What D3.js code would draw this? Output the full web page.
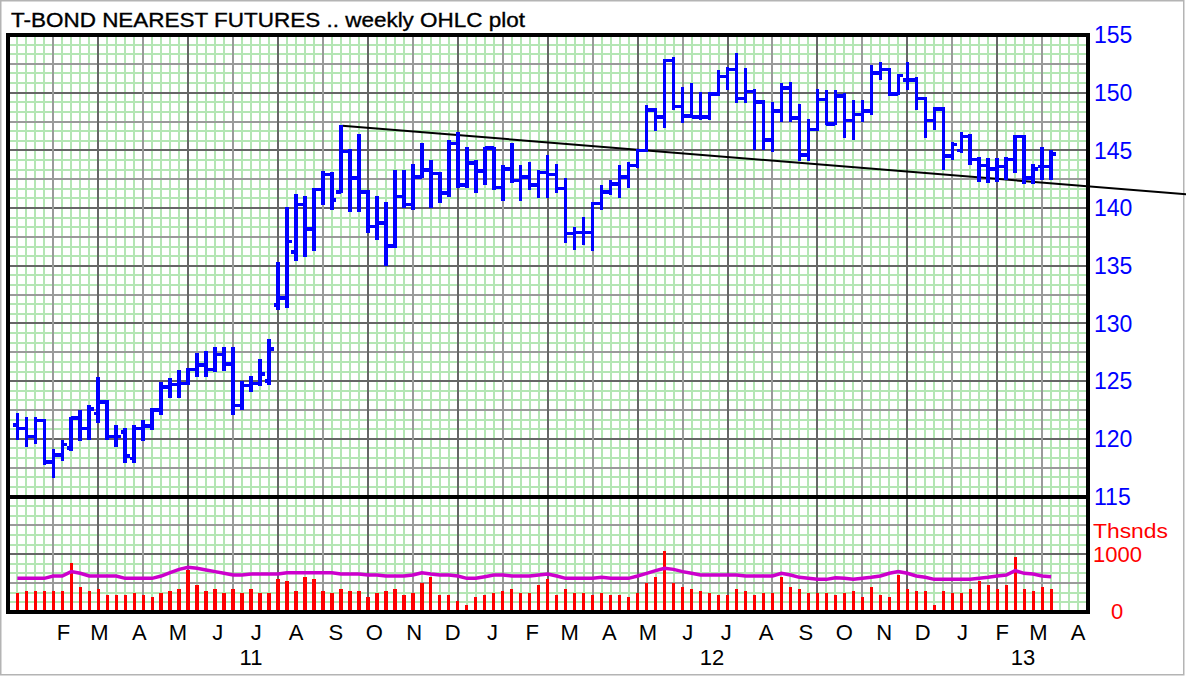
<!DOCTYPE html>
<html><head><meta charset="utf-8">
<script src="https://cdn.jsdelivr.net/npm/d3@7"></script>
<style>body{margin:0;background:#fff;} svg{display:block;}</style>
</head><body>
<script>
const titleText = "T-BOND NEAREST FUTURES .. weekly OHLC plot";
const firstWeek = "2010-12-27";
const opens = [121.2,120.9,120.2,121.6,118.0,118.6,119.2,121.8,120.9,122.2,123.2,120.2,120.6,118.3,120.9,121.1,122.5,124.5,124.7,124.8,
126.0,126.4,126.0,127.3,126.5,122.9,124.6,124.8,125.0,131.6,132.2,136.2,140.3,138.2,141.6,142.9,141.4,144.9,142.6,141.4,
138.4,138.7,136.7,141.0,140.3,142.7,143.3,143.0,141.3,145.6,142.0,143.9,143.2,145.2,141.8,143.4,142.4,142.7,142.0,143.1,
142.9,141.7,137.8,137.9,137.9,140.4,141.4,142.1,142.7,143.7,145.0,148.5,147.9,152.8,148.8,148.0,147.9,147.9,149.9,151.4,
152.0,149.5,150.1,149.2,145.9,148.4,150.4,147.8,144.6,146.8,149.4,147.3,149.7,147.6,148.1,148.4,151.7,152.0,149.9,151.1,
151.1,149.5,147.6,148.6,144.5,145.0,146.2,144.2,143.7,143.4,143.6,144.2,146.2,142.6,143.6,143.6];
const highs = [122.1,121.8,121.8,121.6,119.0,119.8,121.8,122.4,122.8,125.2,123.2,121.1,120.8,121.1,121.5,122.5,124.8,125.1,125.8,126.0,
127.3,127.5,127.8,127.8,127.8,124.9,125.3,126.8,128.5,135.2,140.0,141.1,140.9,141.6,143.1,143.0,147.1,145.0,146.3,141.4,
140.9,140.4,143.2,143.2,143.7,145.5,144.0,143.0,145.8,146.5,145.2,144.0,145.2,145.2,143.6,145.5,143.6,143.9,143.2,144.5,
143.7,142.5,138.2,139.1,140.4,141.9,142.3,143.6,143.9,145.0,148.8,148.5,152.8,153.0,150.4,150.7,149.9,149.9,151.8,152.1,
153.3,152.0,150.2,149.2,149.1,150.7,150.8,148.9,147.6,150.2,150.1,150.1,149.8,149.2,149.2,152.3,152.5,152.0,151.5,152.5,
151.2,149.5,148.6,148.6,145.6,146.5,146.3,144.3,144.2,144.2,144.3,146.2,146.2,143.7,145.2,144.9];
const lows = [120.0,119.4,119.7,117.9,116.7,118.2,119.1,119.9,120.0,121.5,120.0,119.4,118.0,118.0,119.9,120.9,122.2,123.7,123.7,124.8,
125.5,125.5,125.9,126.0,122.2,122.6,124.2,124.7,124.8,131.3,131.5,135.5,135.9,136.4,140.4,140.0,141.4,139.8,139.8,138.0,
137.4,135.1,136.7,140.1,140.0,142.7,140.1,140.6,141.1,141.9,141.9,141.4,142.1,141.7,140.7,142.3,140.7,141.7,141.0,141.0,
141.4,137.1,136.5,136.9,136.4,140.0,141.3,141.0,141.9,143.6,145.0,146.8,147.1,148.6,147.5,147.9,147.8,147.8,149.8,150.4,
149.2,149.2,145.2,145.2,145.0,147.6,147.6,144.2,144.2,146.8,147.3,147.3,146.2,146.0,147.6,148.2,151.2,149.8,149.9,150.4,
148.6,146.2,146.9,143.4,144.3,144.9,143.9,142.4,142.3,142.4,142.6,143.2,142.2,142.2,142.6,142.6];
const closes = [120.9,120.2,121.6,118.0,118.6,119.5,121.8,120.9,122.6,123.2,120.2,120.2,118.5,120.9,121.1,122.5,124.5,124.7,124.8,126.0,
126.4,126.0,127.3,126.5,122.9,124.6,124.8,125.6,127.8,132.2,137.1,140.3,138.2,141.6,142.9,140.7,144.9,142.6,141.4,138.4,
138.7,136.7,141.0,140.3,142.7,143.3,143.0,141.3,145.6,142.0,143.9,143.2,145.2,141.8,143.4,142.4,142.7,142.0,143.1,142.9,
141.7,137.8,137.9,137.9,140.4,141.4,142.1,142.7,143.7,145.0,148.5,147.9,152.8,148.8,148.0,147.9,147.9,149.9,151.4,152.0,
149.5,150.1,149.2,145.9,148.4,150.4,147.8,144.6,146.8,149.4,147.3,149.7,147.6,148.1,148.4,151.7,152.0,149.9,151.5,151.1,
149.5,147.6,148.6,144.5,145.5,146.2,144.2,143.7,143.4,143.6,144.2,146.2,142.6,143.4,143.6,144.7];
const volumes = [316,356,356,356,356,356,849,420,356,391,287,287,287,316,287,252,316,356,391,722,
461,356,391,316,391,316,391,316,316,565,530,356,594,565,356,316,391,356,356,252,
316,356,391,287,316,490,594,287,287,183,113,252,287,316,356,391,316,316,461,565,
287,391,316,316,287,316,287,287,252,316,490,594,1052,490,420,391,356,316,287,287,
391,356,287,316,316,594,420,391,316,316,316,287,316,356,252,420,287,252,635,391,
356,356,113,356,316,316,391,530,461,391,461,954,391,356,420,391];
const volumeAvg = [577,577,577,577,617,617,693,664,617,617,617,617,577,577,577,577,617,675,733,768,
751,722,693,664,635,635,652,652,652,652,675,675,675,675,675,675,652,652,652,635,
635,617,617,617,635,675,652,635,635,617,577,577,606,635,635,617,617,617,635,652,
617,577,577,577,577,594,577,577,577,617,664,710,751,733,693,664,635,635,635,635,
635,617,617,617,617,664,635,594,577,559,559,588,577,559,577,594,617,664,693,664,
617,594,559,559,559,559,559,577,594,617,635,710,664,652,617,606];
const priceTicks = [155,150,145,140,135,130,125,120,115];
const volumeTickLabels = ["1000","0"];
const volumeTickValues = [1000,0];
const volumeUnit = "Thsnds";
const monthLabels = ["F","M","A","M","J","J","A","S","O","N","D","J","F","M","A","M","J","J","A","S","O","N","D","J","F","M","A"];
const monthDates = ["2011-02-01","2011-03-01","2011-04-01","2011-05-01","2011-06-01","2011-07-01","2011-08-01","2011-09-01","2011-10-01","2011-11-01","2011-12-01",
"2012-01-01","2012-02-01","2012-03-01","2012-04-01","2012-05-01","2012-06-01","2012-07-01","2012-08-01","2012-09-01","2012-10-01","2012-11-01","2012-12-01",
"2013-01-01","2013-02-01","2013-03-01","2013-04-01"];
const yearLabels = ["11","12","13"];
const yearDates = ["2011-06-27","2012-06-20","2013-02-17"];
const trendDates = ["2011-09-06","2013-06-26"];
const trendPrices = [147.14,141.18];

const W = 1186, H = 677;
const L = 8, R = 1088, T = 35, MID = 496.5, B = 611.5;
const parse = d3.utcParse("%Y-%m-%d");
const week0 = parse(firstWeek);
const dates = opens.map((_, i) => d3.utcDay.offset(week0, 7 * i));
const n = opens.length;

const x = d3.scaleUtc().domain([dates[0], dates[n - 1]]).range([17.3, 17.3 + 8.99 * (n - 1)]);
const y = d3.scaleLinear().domain([115, 155]).range([MID, T]);
const yv = d3.scaleLinear().domain([0, 2000]).range([B, MID]);

const svg = d3.select("body").append("svg").attr("width", W).attr("height", H);
svg.append("rect").attr("width", W).attr("height", H).attr("fill", "#fff");
svg.append("rect").attr("x", 0.75).attr("y", 0.75).attr("width", 1183).attr("height", 674)
  .attr("fill", "none").attr("stroke", "#b4b4b4").attr("stroke-width", 1.5);

const defs = svg.append("defs");
defs.append("clipPath").attr("id", "plotclip").append("rect")
  .attr("x", L).attr("y", T).attr("width", R - L).attr("height", B - T);

const grid = svg.append("g").attr("clip-path", "url(#plotclip)").attr("shape-rendering", "crispEdges");
const weekIdx = d3.range(-1, 121);
grid.selectAll("line.gv").data(weekIdx.filter(k => (k % 5 + 5) % 5 !== 4)).join("line")
  .attr("x1", k => x(d3.utcDay.offset(week0, 7 * k))).attr("x2", k => x(d3.utcDay.offset(week0, 7 * k)))
  .attr("y1", T).attr("y2", B).attr("stroke", "#b4e6b4").attr("stroke-width", 2);
const fineLevels = d3.range(0, 61).map(j => 155 - j * 2.5 / 3);
grid.selectAll("line.gh").data(fineLevels.filter((_, j) => j % 3 !== 0)).join("line")
  .attr("x1", L).attr("x2", R).attr("y1", p => y(p)).attr("y2", p => y(p))
  .attr("stroke", "#b4e6b4").attr("stroke-width", 2);
const majorLevels = d3.range(0, 21).map(j => ({p: 155 - j * 2.5, j}));
grid.selectAll("line.mh").data(majorLevels).join("line")
  .attr("x1", L).attr("x2", R).attr("y1", d => y(d.p)).attr("y2", d => y(d.p))
  .attr("stroke", d => d.j % 2 === 0 ? "#666" : "#9a9a9a").attr("stroke-width", 2);
const majorWeeks = weekIdx.filter(k => (k % 5 + 5) % 5 === 4);
grid.selectAll("line.mv").data(majorWeeks).join("line")
  .attr("x1", k => x(d3.utcDay.offset(week0, 7 * k))).attr("x2", k => x(d3.utcDay.offset(week0, 7 * k)))
  .attr("y1", T).attr("y2", B)
  .attr("stroke", k => ((k - 4) / 5) % 2 === 0 ? "#9a9a9a" : "#666").attr("stroke-width", 2);

svg.append("g").attr("shape-rendering", "crispEdges").selectAll("rect").data(volumes).join("rect")
  .attr("x", (v, i) => x(dates[i]) - 1.65).attr("width", 3.3)
  .attr("y", v => yv(v)).attr("height", v => B - yv(v)).attr("fill", "#ff0000");
svg.append("path").datum(volumeAvg)
  .attr("d", d3.line().x((v, i) => x(dates[i])).y(v => yv(v)))
  .attr("fill", "none").attr("stroke", "#cc00cc").attr("stroke-width", 3.5);

svg.append("path").datum(trendDates.map((d, i) => ({d: parse(d), p: trendPrices[i]})))
  .attr("d", d3.line().x(t => x(t.d)).y(t => y(t.p)))
  .attr("fill", "none").attr("stroke", "#000").attr("stroke-width", 2);

svg.append("g").attr("shape-rendering", "crispEdges").selectAll("path").data(dates).join("path")
  .attr("d", (d, i) => {
    const cx = x(d);
    return `M${cx - 4.5},${y(opens[i])}H${cx}M${cx},${y(highs[i]) - 1.5}V${y(lows[i]) + 1.5}M${cx},${y(closes[i])}H${cx + 4.5}`;
  })
  .attr("fill", "none").attr("stroke", "#0000ff").attr("stroke-width", 3.5);

const frame = svg.append("g").attr("fill", "none").attr("stroke", "#000").attr("stroke-width", 4).attr("shape-rendering", "crispEdges");
frame.append("rect").attr("x", L).attr("y", T).attr("width", R - L).attr("height", B - T);
frame.append("line").attr("x1", L).attr("x2", R).attr("y1", MID).attr("y2", MID);

const font = "Liberation Sans, Arial, sans-serif";
svg.append("text").attr("x", 11).attr("y", 27.3).attr("font-family", font).attr("font-size", 20.5)
  .attr("textLength", 514).attr("lengthAdjust", "spacingAndGlyphs").attr("fill", "#000")
  .attr("stroke", "#000").attr("stroke-width", 0.35).text(titleText);

svg.append("g").selectAll("text").data(priceTicks).join("text")
  .attr("x", 1094).attr("y", p => y(p) + 8.3).attr("font-family", font).attr("font-size", 23)
  .attr("fill", "#0000ff").text(p => p);
svg.append("text").attr("x", 1093).attr("y", 538).attr("font-family", font).attr("font-size", 21)
  .attr("fill", "#ff0000").attr("textLength", 75).attr("lengthAdjust", "spacingAndGlyphs").text(volumeUnit);
svg.append("g").selectAll("text").data(volumeTickValues).join("text")
  .attr("x", v => v === 0 ? 1117 : 1093).attr("text-anchor", v => v === 0 ? "middle" : "start")
  .attr("y", v => yv(v) + 7.5).attr("font-family", font).attr("font-size", 22)
  .attr("fill", "#ff0000").text((v, i) => volumeTickLabels[i]);

svg.append("g").selectAll("text").data(monthLabels).join("text")
  .attr("x", (m, i) => x(parse(monthDates[i]))).attr("y", 640).attr("text-anchor", "middle")
  .attr("font-family", font).attr("font-size", 22).attr("fill", "#000").text(m => m);
svg.append("g").selectAll("text").data(yearLabels).join("text")
  .attr("x", (m, i) => x(parse(yearDates[i]))).attr("y", 665).attr("text-anchor", "middle")
  .attr("font-family", font).attr("font-size", 22).attr("fill", "#000").text(m => m);
</script>
</body></html>
